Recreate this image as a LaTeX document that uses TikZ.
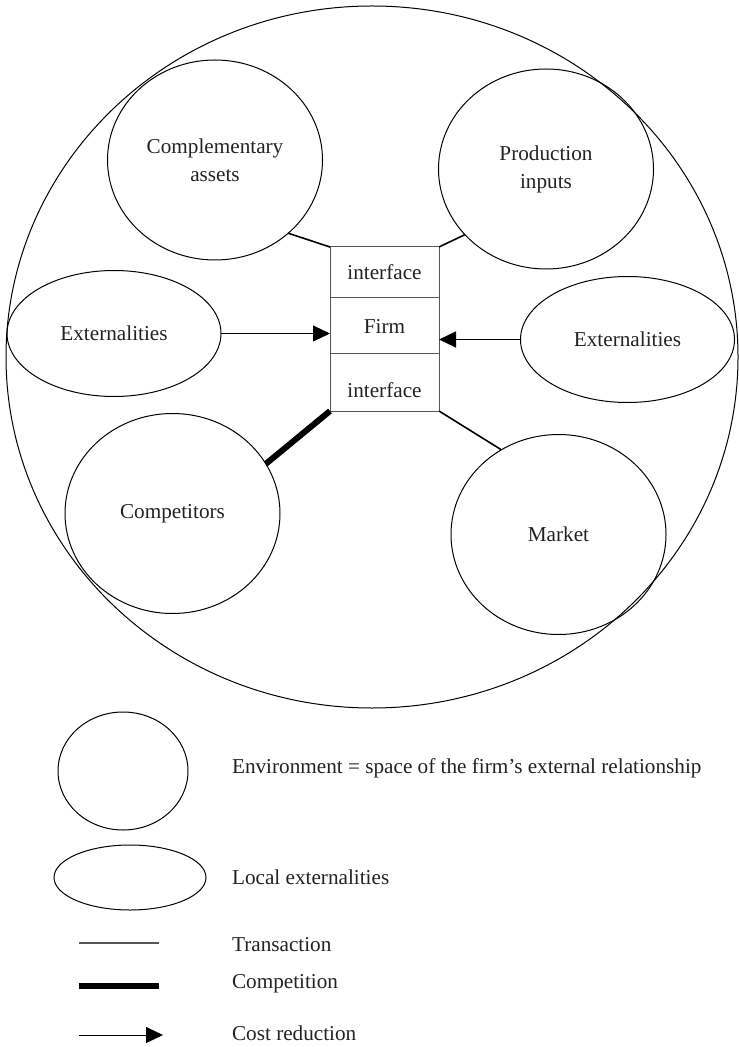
\documentclass[tikz,border=0pt]{standalone}
\usepackage{fontspec}
\setmainfont{Liberation Serif}
\usepackage{tikz}
\usetikzlibrary{arrows.meta,shapes.geometric}
\definecolor{inkgray}{HTML}{222222}
\definecolor{boxgray}{HTML}{555555}

\begin{document}
\begin{tikzpicture}[x=0.5pt,y=-0.5pt,
  font=\fontsize{10.6}{14}\selectfont,text=inkgray,
  env/.style={draw,ellipse,line width=0.5pt,inner sep=0pt,outer sep=0pt,align=center,minimum width=107.5pt,minimum height=100pt},
  extn/.style={env,minimum width=107pt,minimum height=63pt},
  row/.style={draw=boxgray,line width=0.5pt,inner sep=0pt,outer sep=0pt,minimum width=54.5pt},
  trans/.style={line width=0.8pt},
  compet/.style={line width=3pt},
  cost/.style={line width=0.5pt,-{Triangle[length=8.5pt,width=8pt]}},
  lab/.style={anchor=west}]
  \useasboundingbox (0,0) rectangle (738,1047);
  \node[env,minimum width=366pt,minimum height=351pt] (world) at (372,357) {};
  \node[env] (comp) at (215,160) {Complementary\\assets};
  \node[env] (prod) at (546,169) {Production\\inputs};
  \node[env] (rivals) at (172.5,513.5) {Competitors};
  \node[env] (market) at (558.5,534.5) {Market};
  \node[extn] (extL) at (114,333.5) {Externalities};
  \node[extn] (extR) at (627.5,339.5) {Externalities};
  \node[row,minimum height=25.5pt] (ifup) at (384.5,272.5) {interface};
  \node[row,minimum height=28pt] (firm) at (384.5,326) {Firm};
  \node[row,minimum height=28.5pt,text height=15.2pt,text depth=0pt] (ifdown) at (384.5,382.5) {interface};
  \draw[trans] (comp.-45) -- (ifup.north west);
  \draw[trans] (prod.-141.6) -- (ifup.north east);
  \draw[compet] (rivals.28.6) -- (ifdown.south west);
  \draw[trans] (market.124.7) -- (ifdown.south east);
  \draw[cost] (extL.east) -- (extL.east -| firm.west);
  \draw[cost] (extR.west) -- (extR.west -| firm.east);
  % legend
  \node[env,minimum width=65pt,minimum height=59pt] (keyEnv) at (123,771) {};
  \node[env,minimum width=76pt,minimum height=32.5pt] (keyExt) at (130,877.5) {};
  \node[lab] (txtEnv) at (225,768) {Environment = space of the firm’s external relationship};
  \node[lab] (txtExt) at (225,877) {Local externalities};
  \coordinate (transA) at (79,943);
  \coordinate (transB) at (159,943);
  \coordinate (competA) at (79,986);
  \coordinate (competB) at (159,986);
  \coordinate (costA) at (79,1035);
  \coordinate (costB) at (163,1035);
  \draw[line width=0.6pt,boxgray] (transA) -- (transB);
  \draw[compet] (competA) -- (competB);
  \draw[cost] (costA) -- (costB);
  \node[lab] (txtTrans) at (225,945) {Transaction};
  \node[lab] (txtCompet) at (225,984) {Competition};
  \node[lab] (txtCost) at (225,1033) {Cost reduction};
\end{tikzpicture}
\end{document}
